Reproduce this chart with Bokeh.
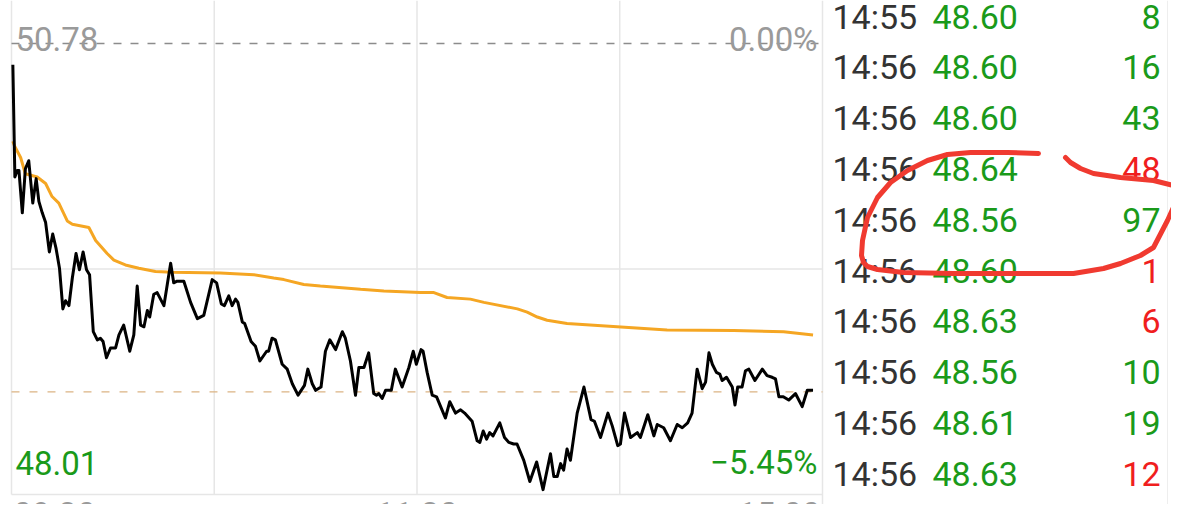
from bokeh.plotting import figure
from bokeh.models import Range1d
from bokeh.core.properties import value
from bokeh.embed import file_html
from bokeh.resources import INLINE

# ---------------- data ----------------
# trading minutes since 09:30 (0..240) and last-trade price
price_minutes = [0.4, 1.0, 1.7, 2.2, 3.2, 4.1, 5.1, 6.3, 7.3, 8.1, 9.1, 10.1, 11.2, 12.2, 13.2,
                 14.2, 15.2, 16.0, 17.0, 18.0, 19.1, 20.1, 21.2, 22.2, 23.1, 24.2, 25.4, 26.3,
                 27.1, 28.1, 29.3, 30.8, 31.8, 33.2, 35.0, 36.2, 37.2, 38.2, 39.2, 40.2, 40.9,
                 42.1, 43.1, 45.1, 46.1, 47.1, 48.0, 49.0, 51.0, 53.0, 55.0, 56.9, 59.4, 60.7,
                 62.1, 63.0, 64.3, 65.3, 66.3, 67.0, 68.3, 69.0, 70.9, 72.2, 73.5, 75.5, 76.1,
                 77.1, 78.1, 80.1, 81.6, 83.1, 84.8, 86.7, 87.7, 89.0, 90.0, 91.6, 92.9, 94.2,
                 95.9, 97.9, 98.8, 100.3, 101.8, 102.8, 104.3, 105.7, 107.2, 108.0, 108.7,
                 109.7, 110.7, 112.4, 113.6, 115.6, 117.6, 118.9, 119.8, 121.2, 121.8, 123.0,
                 124.5, 125.8, 127.0, 128.4, 129.7, 131.4, 132.9, 134.1, 136.3, 137.8, 138.6,
                 139.6, 140.6, 141.5, 142.5, 144.5, 145.9, 147.2, 148.6, 149.6, 151.6, 153.4,
                 155.4, 157.3, 159.5, 160.5, 161.5, 162.5, 163.4, 164.4, 165.4, 167.4, 169.4,
                 171.5, 172.5, 174.3, 176.5, 177.8, 179.4, 180.2, 181.4, 183.2, 185.2, 186.1,
                 188.3, 190.1, 191.1, 193.0, 195.0, 197.0, 198.5, 200.1, 201.4, 202.9, 204.4,
                 205.4, 206.4, 207.4, 208.6, 209.6, 210.3, 211.6, 213.3, 214.1, 214.9, 216.2,
                 217.2, 218.2, 220.0, 222.2, 223.6, 225.1, 226.1, 227.1, 228.4, 230.0, 232.0,
                 234.0, 235.5, 237.2]
price_values = [50.65, 49.96, 50.00, 50.00, 49.74, 50.01, 50.06, 49.80, 49.95, 49.81, 49.74, 49.68,
                49.50, 49.61, 49.52, 49.40, 49.15, 49.20, 49.17, 49.34, 49.49, 49.39, 49.50, 49.39,
                49.36, 49.01, 48.96, 48.97, 48.95, 48.85, 48.91, 48.91, 48.99, 49.05, 48.89, 48.99,
                49.29, 49.05, 49.04, 49.14, 49.10, 49.24, 49.25, 49.17, 49.30, 49.43, 49.31, 49.32,
                49.32, 49.19, 49.09, 49.11, 49.33, 49.31, 49.18, 49.17, 49.23, 49.17, 49.21, 49.19,
                49.07, 49.06, 48.95, 48.92, 48.83, 48.89, 48.89, 48.97, 48.96, 48.81, 48.78, 48.69,
                48.62, 48.68, 48.78, 48.69, 48.65, 48.67, 48.89, 48.96, 48.90, 49.01, 48.97, 48.83,
                48.62, 48.79, 48.79, 48.88, 48.63, 48.62, 48.63, 48.60, 48.65, 48.65, 48.78, 48.67,
                48.79, 48.89, 48.81, 48.90, 48.89, 48.76, 48.62, 48.61, 48.55, 48.48, 48.58, 48.51,
                48.53, 48.51, 48.46, 48.34, 48.33, 48.40, 48.35, 48.39, 48.37, 48.45, 48.36, 48.33,
                48.32, 48.32, 48.22, 48.09, 48.21, 48.04, 48.26, 48.12, 48.12, 48.20, 48.16, 48.29,
                48.22, 48.51, 48.67, 48.47, 48.46, 48.36, 48.51, 48.43, 48.31, 48.32, 48.51, 48.36,
                48.39, 48.36, 48.50, 48.37, 48.44, 48.42, 48.34, 48.44, 48.42, 48.45, 48.51, 48.78,
                48.66, 48.70, 48.88, 48.81, 48.76, 48.75, 48.71, 48.73, 48.67, 48.56, 48.67, 48.67,
                48.77, 48.78, 48.71, 48.78, 48.74, 48.73, 48.72, 48.61, 48.61, 48.59, 48.63, 48.55,
                48.65, 48.65]

# running average price
avg_minutes = [0.4, 0.9, 2.7, 4.1, 7.6, 10.1, 12.0, 14.0, 16.5, 18.0, 22.9, 24.9, 28.3, 30.3,
               33.7, 37.7, 42.6, 47.6, 61.8, 71.7, 77.6, 80.6, 86.5, 91.4, 103.3, 110.2, 121.0,
               125.0, 128.9, 135.8, 139.8, 149.7, 152.6, 155.6, 158.5, 164.4, 179.2, 194.0,
               213.7, 228.5, 237.2]
avg_values = [50.18, 50.15, 50.08, 49.98, 49.96, 49.92, 49.84, 49.80, 49.69, 49.67, 49.65, 49.57,
              49.49, 49.45, 49.42, 49.40, 49.38, 49.375, 49.37, 49.36, 49.34, 49.33, 49.30, 49.29,
              49.27, 49.26, 49.25, 49.25, 49.22, 49.21, 49.19, 49.15, 49.13, 49.10, 49.08, 49.06,
              49.04, 49.02, 49.017, 49.01, 48.99]

prev_close = 50.78
last_price = 48.64
range_low = 48.01
range_mid = 49.395
top_label = "50.78"
top_pct = "0.00%"
low_label = "48.01"
low_pct = "\u22125.45%"

grid_minutes = [0, 60, 120, 180]
time_ticks = [0, 120, 240]
time_labels = ["09:30", "11:30", "15:00"]

# trade ticker (right panel)
trade_times = ["14:55", "14:56", "14:56", "14:56", "14:56", "14:56", "14:56", "14:56", "14:56", "14:56"]
trade_prices = ["48.60", "48.60", "48.60", "48.64", "48.56", "48.60", "48.63", "48.56", "48.61", "48.63"]
trade_volumes = ["8", "16", "43", "48", "97", "1", "6", "10", "19", "12"]
trade_sides = ["sell", "sell", "sell", "buy", "sell", "buy", "buy", "sell", "sell", "buy"]

# hand-drawn red marker stroke (screen pixel space of the screenshot)
mark_x = [1038, 1007, 970, 947, 927, 907, 890, 877, 867, 862, 861, 863, 867, 877, 903, 953, 1020,
          1073, 1103, 1120, 1140, 1153, 1167, 1176, 1178, 1173, 1153, 1120, 1093, 1080, 1070, 1065]
mark_y = [153, 152, 152, 154, 160, 170, 182, 197, 217, 240, 255, 262, 266, 269, 272, 273, 273,
          273, 268, 263, 255, 247, 220, 200, 190, 185, 180, 177, 173, 168, 162, 157]

# ---------------- figure ----------------
GREEN = "#1a9a1a"
RED = "#f01e1e"
GRAY_TXT = "#9a9a9a"
GRID = "#e6e6e6"
FONT = value("Roboto")

p = figure(width=1171, height=504, output_backend="svg", toolbar_location=None,
           x_range=Range1d(-3.255, 343.28), y_range=Range1d(47.9487, 51.044),
           x_axis_type=None, y_axis_type=None, min_border=0)
p.outline_line_color = None
p.grid.visible = False
p.background_fill_color = "white"
p.border_fill_color = "white"
p.extra_x_ranges = {"px": Range1d(0, 1171)}
p.extra_y_ranges = {"py": Range1d(504, 0), "row": Range1d(9.601, -0.315)}

ytop = p.y_range.end
ybot = p.y_range.start

# grid / borders
n = len(grid_minutes)
p.segment(x0=grid_minutes, y0=[range_low] * n, x1=grid_minutes, y1=[ytop] * n,
          line_color=GRID, line_width=1.5)
p.segment(x0=[240], y0=[ybot], x1=[240], y1=[ytop], line_color=GRID, line_width=1.5)
p.segment(x0=[0, 0], y0=[range_mid, range_low], x1=[240, 240], y1=[range_mid, range_low],
          line_color=GRID, line_width=1.5)
p.segment(x0=[1167], y0=[0], x1=[1167], y1=[504], x_range_name="px", y_range_name="py",
          line_color="#eeeeee", line_width=1)

# reference lines
p.segment(x0=[0], y0=[prev_close], x1=[240], y1=[prev_close], line_color="#8c8c8c",
          line_width=1.6, line_dash="8 9")
p.segment(x0=[0], y0=[last_price], x1=[240], y1=[last_price], line_color="#dcb484",
          line_width=1.3, line_dash="8 10")

# labels in chart
p.text(x=[0], y=[prev_close], text=[top_label], text_font=FONT, text_font_size="33px",
       text_color=GRAY_TXT, text_align="left", text_baseline="alphabetic", x_offset=4, y_offset=-4)
p.text(x=[240], y=[prev_close], text=[top_pct], text_font=FONT, text_font_size="33px",
       text_color=GRAY_TXT, text_align="right", text_baseline="alphabetic", x_offset=-5, y_offset=-4)
p.text(x=[0], y=[range_low], text=[low_label], text_font=FONT, text_font_size="33px",
       text_color=GREEN, text_align="left", text_baseline="alphabetic", x_offset=4, y_offset=-32)
p.text(x=[240], y=[range_low], text=[low_pct], text_font=FONT, text_font_size="33px",
       text_color=GREEN, text_align="right", text_baseline="alphabetic", x_offset=-5, y_offset=-32)
p.text(x=time_ticks, y=[range_low] * 3, text=time_labels, text_font=FONT, text_font_size="33px",
       text_color=GRAY_TXT, text_align=["left", "center", "right"], text_baseline="top",
       x_offset=[2, 0, -2], y_offset=0)

# series
p.line(avg_minutes, avg_values, line_color="#f5a623", line_width=3)
p.line(price_minutes, price_values, line_color="black", line_width=3, line_join="round")

# ticker table
rows = list(range(len(trade_times)))
vol_colors = [RED if s == "buy" else GREEN for s in trade_sides]
p.text(x=[832] * len(rows), y=rows, text=trade_times, x_range_name="px", y_range_name="row",
       text_font=FONT, text_font_size="34px", text_color="#333333", text_align="left",
       text_baseline="middle")
p.text(x=[932] * len(rows), y=rows, text=trade_prices, x_range_name="px", y_range_name="row",
       text_font=FONT, text_font_size="34px", text_color=GREEN, text_align="left",
       text_baseline="middle")
p.text(x=[1160] * len(rows), y=rows, text=trade_volumes, x_range_name="px", y_range_name="row",
       text_font=FONT, text_font_size="34px", text_color=vol_colors, text_align="right",
       text_baseline="middle")

# red hand-drawn marker
p.line(mark_x, mark_y, x_range_name="px", y_range_name="py", line_color="#f03a30",
       line_width=5, line_cap="round", line_join="round")

open("out.html", "w").write(file_html(p, INLINE))
